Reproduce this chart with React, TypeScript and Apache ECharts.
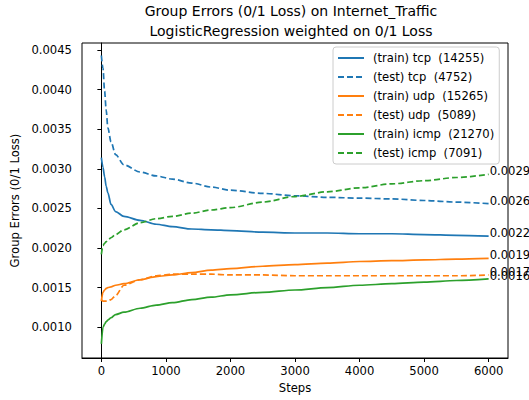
import React, { useEffect, useRef } from "react";
import * as echarts from "echarts";

const steps = [0, 25, 50, 75, 100, 150, 220, 350, 600, 850, 1100, 1400, 1700, 2000, 2500, 3000, 3500, 4000, 4500, 5000, 5500, 6000];

const trainTcp = [0.00314, 0.00302, 0.0029, 0.00278, 0.0027, 0.00255, 0.00246, 0.0024, 0.00235, 0.0023, 0.00227, 0.00224, 0.00223, 0.00222, 0.0022, 0.00219, 0.00219, 0.00218, 0.00218, 0.00217, 0.00216, 0.00215];
const testTcp = [0.00443, 0.00427, 0.00398, 0.00374, 0.00352, 0.00334, 0.00318, 0.00305, 0.00296, 0.00291, 0.00287, 0.00282, 0.00277, 0.00273, 0.00269, 0.00266, 0.00264, 0.00263, 0.00262, 0.0026, 0.00258, 0.00256];
const trainUdp = [0.00133, 0.00144, 0.00147, 0.00149, 0.0015, 0.00151, 0.00153, 0.00155, 0.0016, 0.00164, 0.00166, 0.00169, 0.00172, 0.00174, 0.00177, 0.00179, 0.00181, 0.00183, 0.00184, 0.00185, 0.00186, 0.00187];
const testUdp = [0.00135, 0.00133, 0.00133, 0.00133, 0.00133, 0.00135, 0.0014, 0.00153, 0.0016, 0.00165, 0.00167, 0.00167, 0.00167, 0.00166, 0.00166, 0.00165, 0.00165, 0.00165, 0.00165, 0.00165, 0.00165, 0.00166];
const trainIcmp = [0.00079, 0.001, 0.00104, 0.00107, 0.00109, 0.00112, 0.00116, 0.00119, 0.00124, 0.00128, 0.00131, 0.00135, 0.00138, 0.00141, 0.00144, 0.00147, 0.0015, 0.00153, 0.00155, 0.00157, 0.00159, 0.00161];
const testIcmp = [0.00192, 0.00203, 0.00206, 0.00208, 0.0021, 0.00213, 0.00217, 0.00223, 0.00232, 0.00237, 0.0024, 0.00244, 0.00248, 0.00251, 0.00258, 0.00265, 0.00271, 0.00276, 0.00281, 0.00285, 0.00289, 0.00293];

const xTicks = [0, 1000, 2000, 3000, 4000, 5000, 6000];
const yTicks = [0.001, 0.0015, 0.002, 0.0025, 0.003, 0.0035, 0.004, 0.0045];

const seriesDefs = [
  { name: "(train) tcp  (14255)", values: trainTcp, color: "#1f77b4", dashed: false },
  { name: "(test) tcp  (4752)", values: testTcp, color: "#1f77b4", dashed: true },
  { name: "(train) udp  (15265)", values: trainUdp, color: "#ff7f0e", dashed: false },
  { name: "(test) udp  (5089)", values: testUdp, color: "#ff7f0e", dashed: true },
  { name: "(train) icmp  (21270)", values: trainIcmp, color: "#2ca02c", dashed: false },
  { name: "(test) icmp  (7091)", values: testIcmp, color: "#2ca02c", dashed: true },
];

const FONT = "DejaVu Sans";
const FS = 11.6;

export default function App() {
  const ref = useRef<HTMLDivElement>(null);
  useEffect(() => {
    if (!ref.current) return;
    const chart = echarts.init(ref.current, undefined, { renderer: "svg" });
    chart.setOption({
      animation: false,
      textStyle: { fontFamily: FONT },
      title: {
        text: "Group Errors (0/1 Loss) on Internet_Traffic\nLogisticRegression weighted on 0/1 Loss",
        left: 291,
        top: 1,
        textAlign: "center",
        padding: 0,
        textStyle: { fontFamily: FONT, fontSize: 14, fontWeight: "normal", color: "#000", lineHeight: 20 },
      },
      grid: { left: 82, right: 21, top: 43, bottom: 42, show: true, borderColor: "#000", borderWidth: 1 },
      legend: {
        orient: "vertical",
        left: 333,
        top: 47,
        padding: [5, 5, 5, 4],
        itemWidth: 26,
        itemHeight: 11,
        itemGap: 7,
        backgroundColor: "rgba(255,255,255,0.8)",
        borderColor: "#cccccc",
        borderWidth: 1,
        borderRadius: 3,
        itemStyle: { opacity: 0 },
        textStyle: { fontFamily: FONT, fontSize: FS, color: "#000", padding: [0, 0, 0, 4] },
        data: seriesDefs.map((s) => s.name),
      },
      xAxis: {
        type: "value",
        min: -300,
        max: 6300,
        name: "Steps",
        nameLocation: "middle",
        nameGap: 24,
        nameTextStyle: { fontFamily: FONT, fontSize: FS, color: "#000" },
        axisLine: { show: true, lineStyle: { color: "#000", width: 1 } },
        axisTick: { show: true, length: 4, customValues: xTicks, lineStyle: { color: "#000" } },
        axisLabel: {
          customValues: xTicks,
          fontFamily: FONT,
          fontSize: FS,
          color: "#000",
          margin: 7,
          formatter: (v: number) => String(v),
        },
        splitLine: { show: false },
      },
      yAxis: {
        type: "value",
        min: 0.000612,
        max: 0.004588,
        name: "Group Errors (0/1 Loss)",
        nameLocation: "middle",
        nameGap: 55,
        nameTextStyle: { fontFamily: FONT, fontSize: FS, color: "#000" },
        axisLine: { show: true, lineStyle: { color: "#000", width: 1 } },
        axisTick: { show: true, length: 4, customValues: yTicks, lineStyle: { color: "#000" } },
        axisLabel: {
          customValues: yTicks,
          fontFamily: FONT,
          fontSize: FS,
          color: "#000",
          margin: 10,
          formatter: (v: number) => v.toFixed(4),
        },
        splitLine: { show: false },
      },
      series: seriesDefs.map((s) => ({
        name: s.name,
        type: "line",
        symbol: "none",
        smooth: 0.3,
        smoothMonotone: "x",
        data: steps.map((x, i) => [x, s.values[i]]),
        itemStyle: { color: s.color },
        lineStyle: { color: s.color, width: 1.7, type: s.dashed ? [6, 3] : "solid" },
        endLabel: {
          show: true,
          formatter: (p: any) => (p.value[1] as number).toFixed(4),
          color: "#000",
          fontFamily: FONT,
          fontSize: FS,
          distance: 1,
          verticalAlign: "bottom",
          offset: [0, 3],
        },
      })),
    });
    return () => chart.dispose();
  }, []);
  return <div ref={ref} style={{ width: 529, height: 400, position: "absolute", left: 0, top: 0 }} />;
}
